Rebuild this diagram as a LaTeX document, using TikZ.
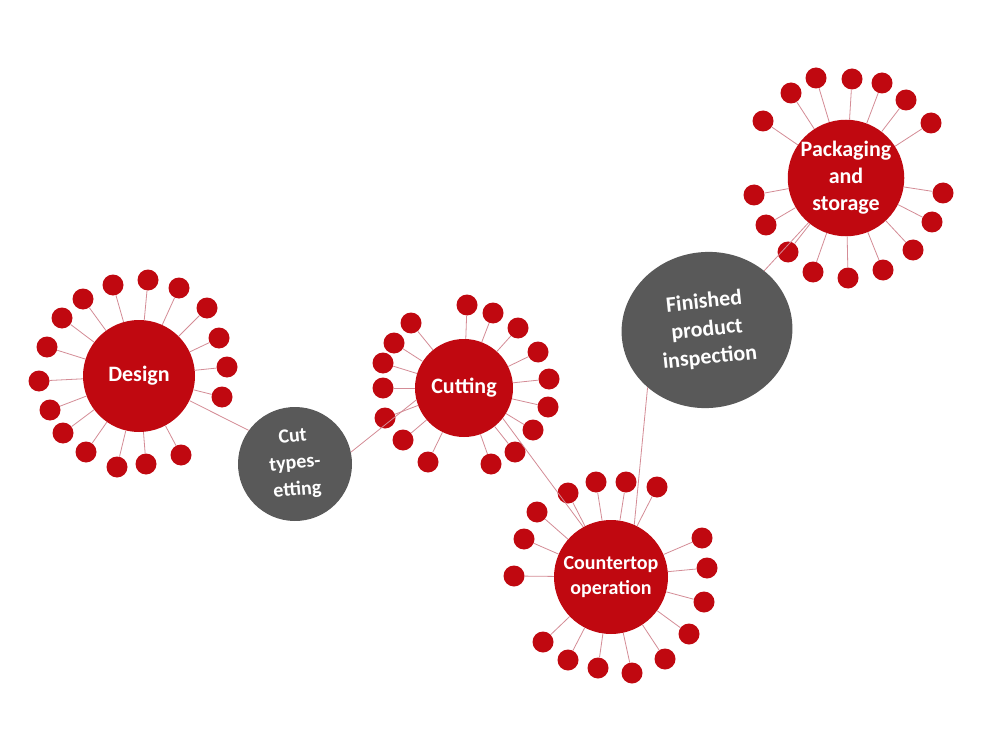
\documentclass[tikz,border=0pt]{standalone}
\usepackage{fontspec}
\setmainfont{Carlito}
\usetikzlibrary{shapes.geometric}
\definecolor{procred}{RGB}{192,8,16}
\definecolor{procgray}{RGB}{89,89,89}
\definecolor{spokepink}{RGB}{212,140,150}

\tikzset{
  stage/.style={circle,fill=procred,text=white,inner sep=0pt,align=center,
    font=\bfseries\fontsize{22}{27}\selectfont},
  check/.style={fill=procgray,text=white,inner sep=0pt,align=center,
    font=\bfseries\fontsize{22}{28}\selectfont},
  bead/.style={circle,fill=procred,minimum size=21pt,inner sep=0pt},
  spoke/.style={spokepink,line width=0.8pt},
  link/.style={spokepink,line width=0.8pt}
}

\begin{document}
\begin{tikzpicture}[x=1pt,y=-1pt]
  \useasboundingbox[fill=white] (0,0) rectangle (988,730);

  \node[stage,minimum size=112pt] (design) at (139,376) {Design};
  \node[stage,minimum size=98pt] (cutting) at (464,388) {Cutting};
  \node[stage,minimum size=114pt,font=\bfseries\fontsize{20}{25}\selectfont] (counter) at (611,577)
    {Countertop\\operation};
  \node[stage,minimum size=116pt] (pack) at (846,178) {Packaging\\and\\storage};
  \node[check,circle,minimum size=114pt,rotate=5,font=\bfseries\fontsize{20}{27}\selectfont]
    (typeset) at (295,464) {Cut\\types-\\etting};
  \node[check,ellipse,minimum width=171pt,minimum height=156pt,rotate=6] (inspect) at (707,330)
    {Finished\\product\\inspection};

  \foreach \x/\y [count=\k] in {113/285,148/280,179/288,207/308,219/338,227/367,222/397,
      62/318,83/299,47/347,39/381,50/410,63/433,86/452,117/467,146/464,181/455} {
    \node[bead] (design\k) at (\x,\y) {};
    \draw[spoke] (design\k) -- (design);
  }
  \foreach \x/\y [count=\k] in {467/305,493/313,518/328,538/352,549/379,548/407,533/430,
      515/452,491/464,428/462,403/440,385/418,383/388,383/363,394/343,411/323} {
    \node[bead] (cutting\k) at (\x,\y) {};
    \draw[spoke] (cutting\k) -- (cutting);
  }
  \foreach \x/\y [count=\k] in {568/493,596/482,626/482,657/487,537/512,524/539,514/576,
      702/538,707/568,704/602,689/634,665/659,632/673,598/668,568/660,543/642} {
    \node[bead] (counter\k) at (\x,\y) {};
    \draw[spoke] (counter\k) -- (counter);
  }
  \foreach \x/\y [count=\k] in {816/78,852/79,882/83,906/100,931/123,763/121,791/93,
      754/195,766/225,788/252,813/272,848/278,883/270,913/250,932/222,943/193} {
    \node[bead] (pack\k) at (\x,\y) {};
    \draw[spoke] (pack\k) -- (pack);
  }

  \draw[link] (design.-26) -- (typeset.139);
  \draw[link] (typeset.7) -- (cutting.194);
  \draw[link] (cutting.-38) -- (counter.119);
  \draw[link] (counter.66) -- (inspect.218);
  \draw[link] (inspect.40) -- (pack.230);
\end{tikzpicture}
\end{document}
